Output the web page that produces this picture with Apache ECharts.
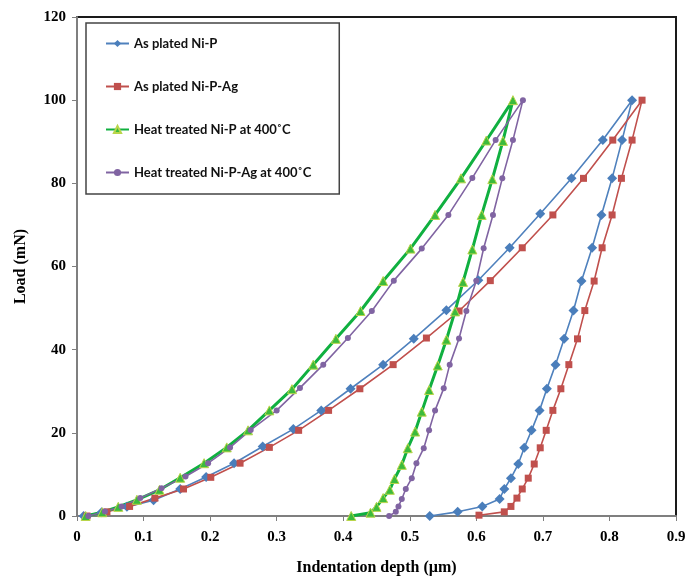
<!DOCTYPE html>
<html><head><meta charset="utf-8">
<script src="https://cdn.jsdelivr.net/npm/echarts@6/dist/echarts.min.js"></script>
<style>html,body{margin:0;padding:0;background:#fff}#c{width:700px;height:581px}</style>
</head><body><div id="c"></div><script>
const seriesNames = ['As plated Ni-P', 'As plated Ni-P-Ag', 'Heat treated Ni-P at 400˚C', 'Heat treated Ni-P-Ag at 400˚C'];
const xTicks = [0, 0.1, 0.2, 0.3, 0.4, 0.5, 0.6, 0.7, 0.8, 0.9];
const yTicks = [0, 20, 40, 60, 80, 100, 120];

const niP_depth = [0.010, 0.037, 0.075, 0.115, 0.155, 0.194, 0.236, 0.279, 0.325, 0.367, 0.411, 0.460, 0.506, 0.555, 0.603, 0.650, 0.696, 0.743, 0.790, 0.834,
  0.819, 0.804, 0.788, 0.774, 0.758, 0.746, 0.732, 0.719, 0.706, 0.695, 0.683, 0.672, 0.663, 0.652, 0.642, 0.635, 0.609, 0.572, 0.530];
const niP_load = [0, 0.9, 2.2, 3.8, 6.5, 9.4, 12.7, 16.7, 20.9, 25.4, 30.6, 36.4, 42.6, 49.5, 56.7, 64.5, 72.7, 81.2, 90.4, 100,
  90.4, 81.2, 72.4, 64.5, 56.5, 49.4, 42.6, 36.4, 30.6, 25.4, 20.6, 16.4, 12.5, 9.1, 6.5, 4.1, 2.3, 1.0, 0];

const niPAg_depth = [0.015, 0.045, 0.079, 0.117, 0.160, 0.201, 0.245, 0.289, 0.333, 0.378, 0.425, 0.475, 0.525, 0.574, 0.621, 0.669, 0.715, 0.761, 0.805, 0.849,
  0.834, 0.818, 0.804, 0.789, 0.777, 0.763, 0.752, 0.739, 0.727, 0.715, 0.705, 0.696, 0.687, 0.678, 0.669, 0.661, 0.652, 0.642, 0.604];
const niPAg_load = [0, 1.0, 2.3, 4.3, 6.5, 9.3, 12.7, 16.5, 20.6, 25.4, 30.6, 36.4, 42.8, 49.3, 56.6, 64.5, 72.4, 81.2, 90.4, 100,
  90.4, 81.2, 72.4, 64.5, 56.5, 49.4, 42.6, 36.4, 30.6, 25.4, 20.6, 16.4, 12.5, 9.1, 6.5, 4.3, 2.3, 1.0, 0.2];

const htNiP_depth = [0.013, 0.038, 0.062, 0.090, 0.124, 0.155, 0.191, 0.225, 0.257, 0.289, 0.323, 0.355, 0.389, 0.426, 0.460, 0.501, 0.538, 0.577, 0.615, 0.655,
  0.640, 0.624, 0.608, 0.594, 0.580, 0.568, 0.555, 0.542, 0.529, 0.518, 0.508, 0.497, 0.488, 0.477, 0.470, 0.460, 0.450, 0.441, 0.412];
const htNiP_load = [0, 0.9, 2.2, 3.9, 6.3, 9.2, 12.7, 16.5, 20.6, 25.4, 30.5, 36.4, 42.6, 49.3, 56.5, 64.3, 72.4, 81.2, 90.3, 100,
  90.2, 81.0, 72.4, 64.1, 56.3, 49.2, 42.4, 36.2, 30.3, 25.1, 20.3, 16.3, 12.3, 8.9, 6.3, 4.3, 2.2, 0.8, 0];

const htNiPAg_depth = [0.017, 0.042, 0.067, 0.095, 0.127, 0.163, 0.197, 0.230, 0.261, 0.300, 0.335, 0.370, 0.407, 0.443, 0.476, 0.518, 0.558, 0.594, 0.629, 0.670,
  0.655, 0.639, 0.625, 0.611, 0.600, 0.585, 0.574, 0.560, 0.551, 0.538, 0.529, 0.521, 0.510, 0.503, 0.494, 0.488, 0.483, 0.479, 0.469];
const htNiPAg_load = [0, 1.1, 2.3, 4.3, 6.7, 9.5, 12.7, 16.5, 20.7, 25.4, 30.8, 36.4, 42.8, 49.3, 56.6, 64.3, 72.4, 81.3, 90.4, 100,
  90.4, 81.2, 72.4, 64.4, 56.6, 49.3, 42.7, 36.4, 30.7, 25.4, 20.6, 16.3, 12.7, 9.1, 6.5, 4.1, 2.3, 1.0, 0];

function pairs(xs, ys) { return xs.map((x, i) => [x, ys[i]]); }

const chart = echarts.init(document.getElementById('c'), null, { renderer: 'canvas' });
const axisFont = { fontFamily: '"Liberation Serif", "Times New Roman", serif', fontWeight: 'bold', fontSize: 15, color: '#000' };

chart.setOption({
  animation: false,
  backgroundColor: '#fff',
  grid: { left: 77, right: 24, top: 17, bottom: 62, show: true, borderColor: '#1a1a1a', borderWidth: 2, backgroundColor: 'transparent' },
  legend: {
    orient: 'vertical', left: 86, top: 23,
    padding: [13, 28, 14, 19],
    itemGap: 28, itemWidth: 23, itemHeight: 9,
    borderColor: '#444', borderWidth: 1.5, backgroundColor: '#fff',
    textStyle: { fontFamily: 'Lato, "Open Sans", sans-serif', fontWeight: 'bold', fontSize: 13, color: '#111', lineHeight: 15 },
    data: seriesNames
  },
  xAxis: {
    type: 'value', min: xTicks[0], max: xTicks[xTicks.length - 1], interval: 0.1,
    name: 'Indentation depth (µm)', nameLocation: 'middle', nameGap: 44,
    nameTextStyle: Object.assign({}, axisFont, { fontSize: 16 }),
    axisLine: { show: true, onZero: false, lineStyle: { color: '#7f7f7f', width: 2 } },
    axisTick: { show: true, length: 5, lineStyle: { color: '#7f7f7f' } },
    axisLabel: Object.assign({}, axisFont, { margin: 14, formatter: v => (Math.round(v * 10) / 10).toString() }),
    splitLine: { show: false }
  },
  yAxis: {
    type: 'value', min: yTicks[0], max: yTicks[yTicks.length - 1], interval: 20,
    name: 'Load (mN)', nameLocation: 'middle', nameGap: 48,
    nameTextStyle: Object.assign({}, axisFont, { fontSize: 16 }),
    axisLine: { show: true, onZero: false, lineStyle: { color: '#7f7f7f', width: 2 } },
    axisTick: { show: true, length: 5, lineStyle: { color: '#7f7f7f' } },
    axisLabel: Object.assign({}, axisFont, { margin: 11 }),
    splitLine: { show: false }
  },
  series: [
    { name: seriesNames[0], type: 'line', data: pairs(niP_depth, niP_load), symbol: 'diamond', symbolSize: 10,
      lineStyle: { color: '#4F81BD', width: 1.6 }, itemStyle: { color: '#4A7EBB' } },
    { name: seriesNames[1], type: 'line', data: pairs(niPAg_depth, niPAg_load), symbol: 'rect', symbolSize: 7,
      lineStyle: { color: '#C0504D', width: 1.6 }, itemStyle: { color: '#C0504D' } },
    { name: seriesNames[2], type: 'line', data: pairs(htNiP_depth, htNiP_load), symbol: 'triangle', symbolSize: 9,
      lineStyle: { color: '#10B040', width: 3 }, itemStyle: { color: '#3CBB3C', borderColor: '#B9D54A', borderWidth: 1 } },
    { name: seriesNames[3], type: 'line', data: pairs(htNiPAg_depth, htNiPAg_load), symbol: 'circle', symbolSize: 6,
      lineStyle: { color: '#8064A2', width: 1.6 }, itemStyle: { color: '#8064A2' } }
  ]
});
</script></body></html>
